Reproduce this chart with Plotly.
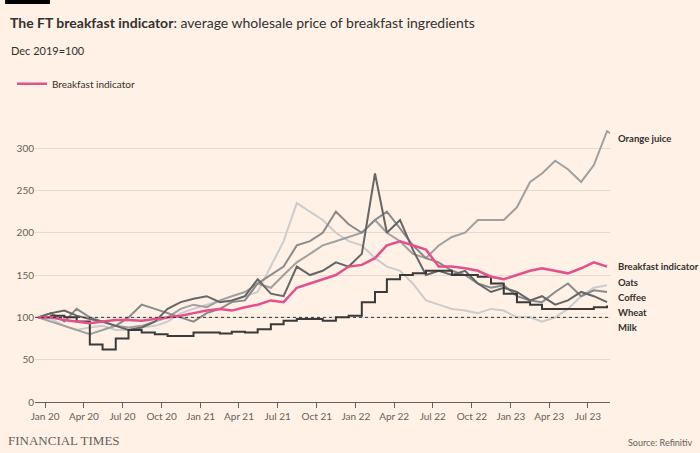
import plotly.graph_objects as go
import pandas as pd

# monthly values, Dec 2019 = 100
indicator = [100, 100, 97, 95, 93, 95, 97, 97, 96, 98, 100, 102, 105, 108, 110, 108, 112, 115, 120, 118, 135, 140, 145,
             150, 160, 162, 170, 185, 190, 185, 180, 160, 160, 158, 155, 148, 145, 150, 155, 158, 155, 152, 158, 165, 160]
milk = [100, 102, 100, 95, 68, 62, 75, 85, 82, 80, 78, 78, 82, 82, 81, 83, 82, 86, 92, 96, 98, 98, 96, 100, 102,
        118, 130, 145, 150, 152, 155, 155, 150, 150, 148, 140, 128, 118, 115, 110, 110, 110, 110, 112, 114]
wheat = [100, 105, 108, 102, 98, 95, 90, 85, 88, 95, 110, 118, 122, 125, 118, 120, 125, 145, 128, 125, 160, 150, 155,
         165, 160, 175, 270, 200, 215, 180, 150, 155, 150, 155, 140, 130, 135, 130, 120, 125, 115, 120, 130, 125, 118]
orange_juice = [100, 95, 90, 85, 80, 85, 90, 88, 90, 95, 100, 110, 115, 112, 120, 125, 130, 140, 135, 150, 165, 175,
                185, 190, 195, 200, 215, 200, 190, 175, 170, 185, 195, 200, 215, 215, 215, 230, 260, 270, 285, 275,
                260, 280, 320, 310]
coffee = [100, 105, 95, 110, 100, 95, 90, 100, 115, 110, 105, 100, 95, 105, 110, 118, 120, 140, 150, 160, 185, 190,
          200, 225, 210, 200, 215, 225, 205, 185, 170, 165, 155, 150, 140, 135, 138, 125, 120, 118, 130, 140, 125,
          132, 130]
oats = [100, 98, 90, 85, 88, 90, 85, 85, 88, 90, 95, 105, 110, 115, 120, 118, 125, 130, 160, 190, 235, 225, 215, 200,
        190, 185, 170, 160, 155, 140, 120, 115, 110, 108, 105, 110, 108, 100, 100, 95, 100, 110, 125, 135, 138]

end_labels = ["Orange juice", "Breakfast indicator", "Oats", "Coffee", "Wheat", "Milk"]
label_y = [311, 160, 141, 124, 106, 88]

def dates(vals):
    return pd.date_range("2019-12-01", periods=len(vals), freq="MS") + pd.Timedelta(days=14)

fig = go.Figure()
grey_series = [
    (oats, "#cccccc", "linear"),
    (orange_juice, "#a0a0a0", "linear"),
    (coffee, "#8a8a8a", "linear"),
    (wheat, "#666666", "linear"),
    (milk, "#3a3a3a", "hv"),
]
for vals, col, shape in grey_series:
    fig.add_trace(go.Scatter(x=dates(vals), y=vals, mode="lines", line=dict(color=col, width=2, shape=shape),
                             showlegend=False, hoverinfo="skip"))
fig.add_trace(go.Scatter(x=dates(indicator), y=indicator, mode="lines", name="Breakfast indicator",
                         line=dict(color="#e3508c", width=2.5)))

fig.add_shape(type="line", xref="paper", x0=0, x1=1, y0=100, y1=100,
              line=dict(color="#333333", width=1, dash="dot"))

for lab, y in zip(end_labels, label_y):
    fig.add_annotation(xref="paper", x=1.0, y=y, text="<b>" + lab + "</b>", showarrow=False, xanchor="left",
                       xshift=6, font=dict(size=9.5, color="#33302e"))

fig.update_layout(
    width=700, height=453,
    paper_bgcolor="#fff1e5", plot_bgcolor="#fff1e5",
    margin=dict(l=30, r=90, t=110, b=51),
    font=dict(family="Lato, sans-serif", color="#66605c", size=10),
    title=dict(text="<b>The FT breakfast indicator</b>: average wholesale price of breakfast ingredients",
               x=10 / 700, xref="container", xanchor="left", y=0.96, yref="container",
               font=dict(size=14, color="#33302e")),
    legend=dict(x=-0.04, y=1.09, xanchor="left", yanchor="middle", bgcolor="rgba(0,0,0,0)",
                font=dict(size=10, color="#33302e"), itemwidth=30),
    xaxis=dict(range=["2019-12-08", "2023-08-22"], dtick="M3", tick0="2020-01-01", tickformat="%b %y",
               showgrid=False, ticks="outside", ticklen=5, tickcolor="#66605c", showline=True,
               linecolor="#66605c", tickfont=dict(size=10)),
    yaxis=dict(range=[0, 345], dtick=50, gridcolor="#e6d9ce", zeroline=False, tickfont=dict(size=10)),
)

fig.add_shape(type="rect", xref="paper", yref="paper", x0=-0.052, x1=0.026, y0=1.363, y1=1.377,
              fillcolor="#000000", line_width=0)
fig.add_annotation(xref="paper", yref="paper", x=-0.045, y=1.205, text="Dec 2019=100", showarrow=False,
                   xanchor="left", yanchor="middle", font=dict(size=11, color="#33302e"))
fig.add_annotation(xref="paper", yref="paper", x=-0.05, y=-0.165, text="FINANCIAL TIMES", showarrow=False,
                   xanchor="left", yanchor="bottom",
                   font=dict(family="Liberation Serif, serif", size=13, color="#66605c"))
fig.add_annotation(xref="paper", yref="paper", x=1.147, y=-0.165, text="Source: Refinitiv", showarrow=False,
                   xanchor="right", yanchor="bottom", font=dict(size=9, color="#66605c"))

fig.write_html("out.html", config={"displayModeBar": False}, post_script="document.body.style.margin='0';")
